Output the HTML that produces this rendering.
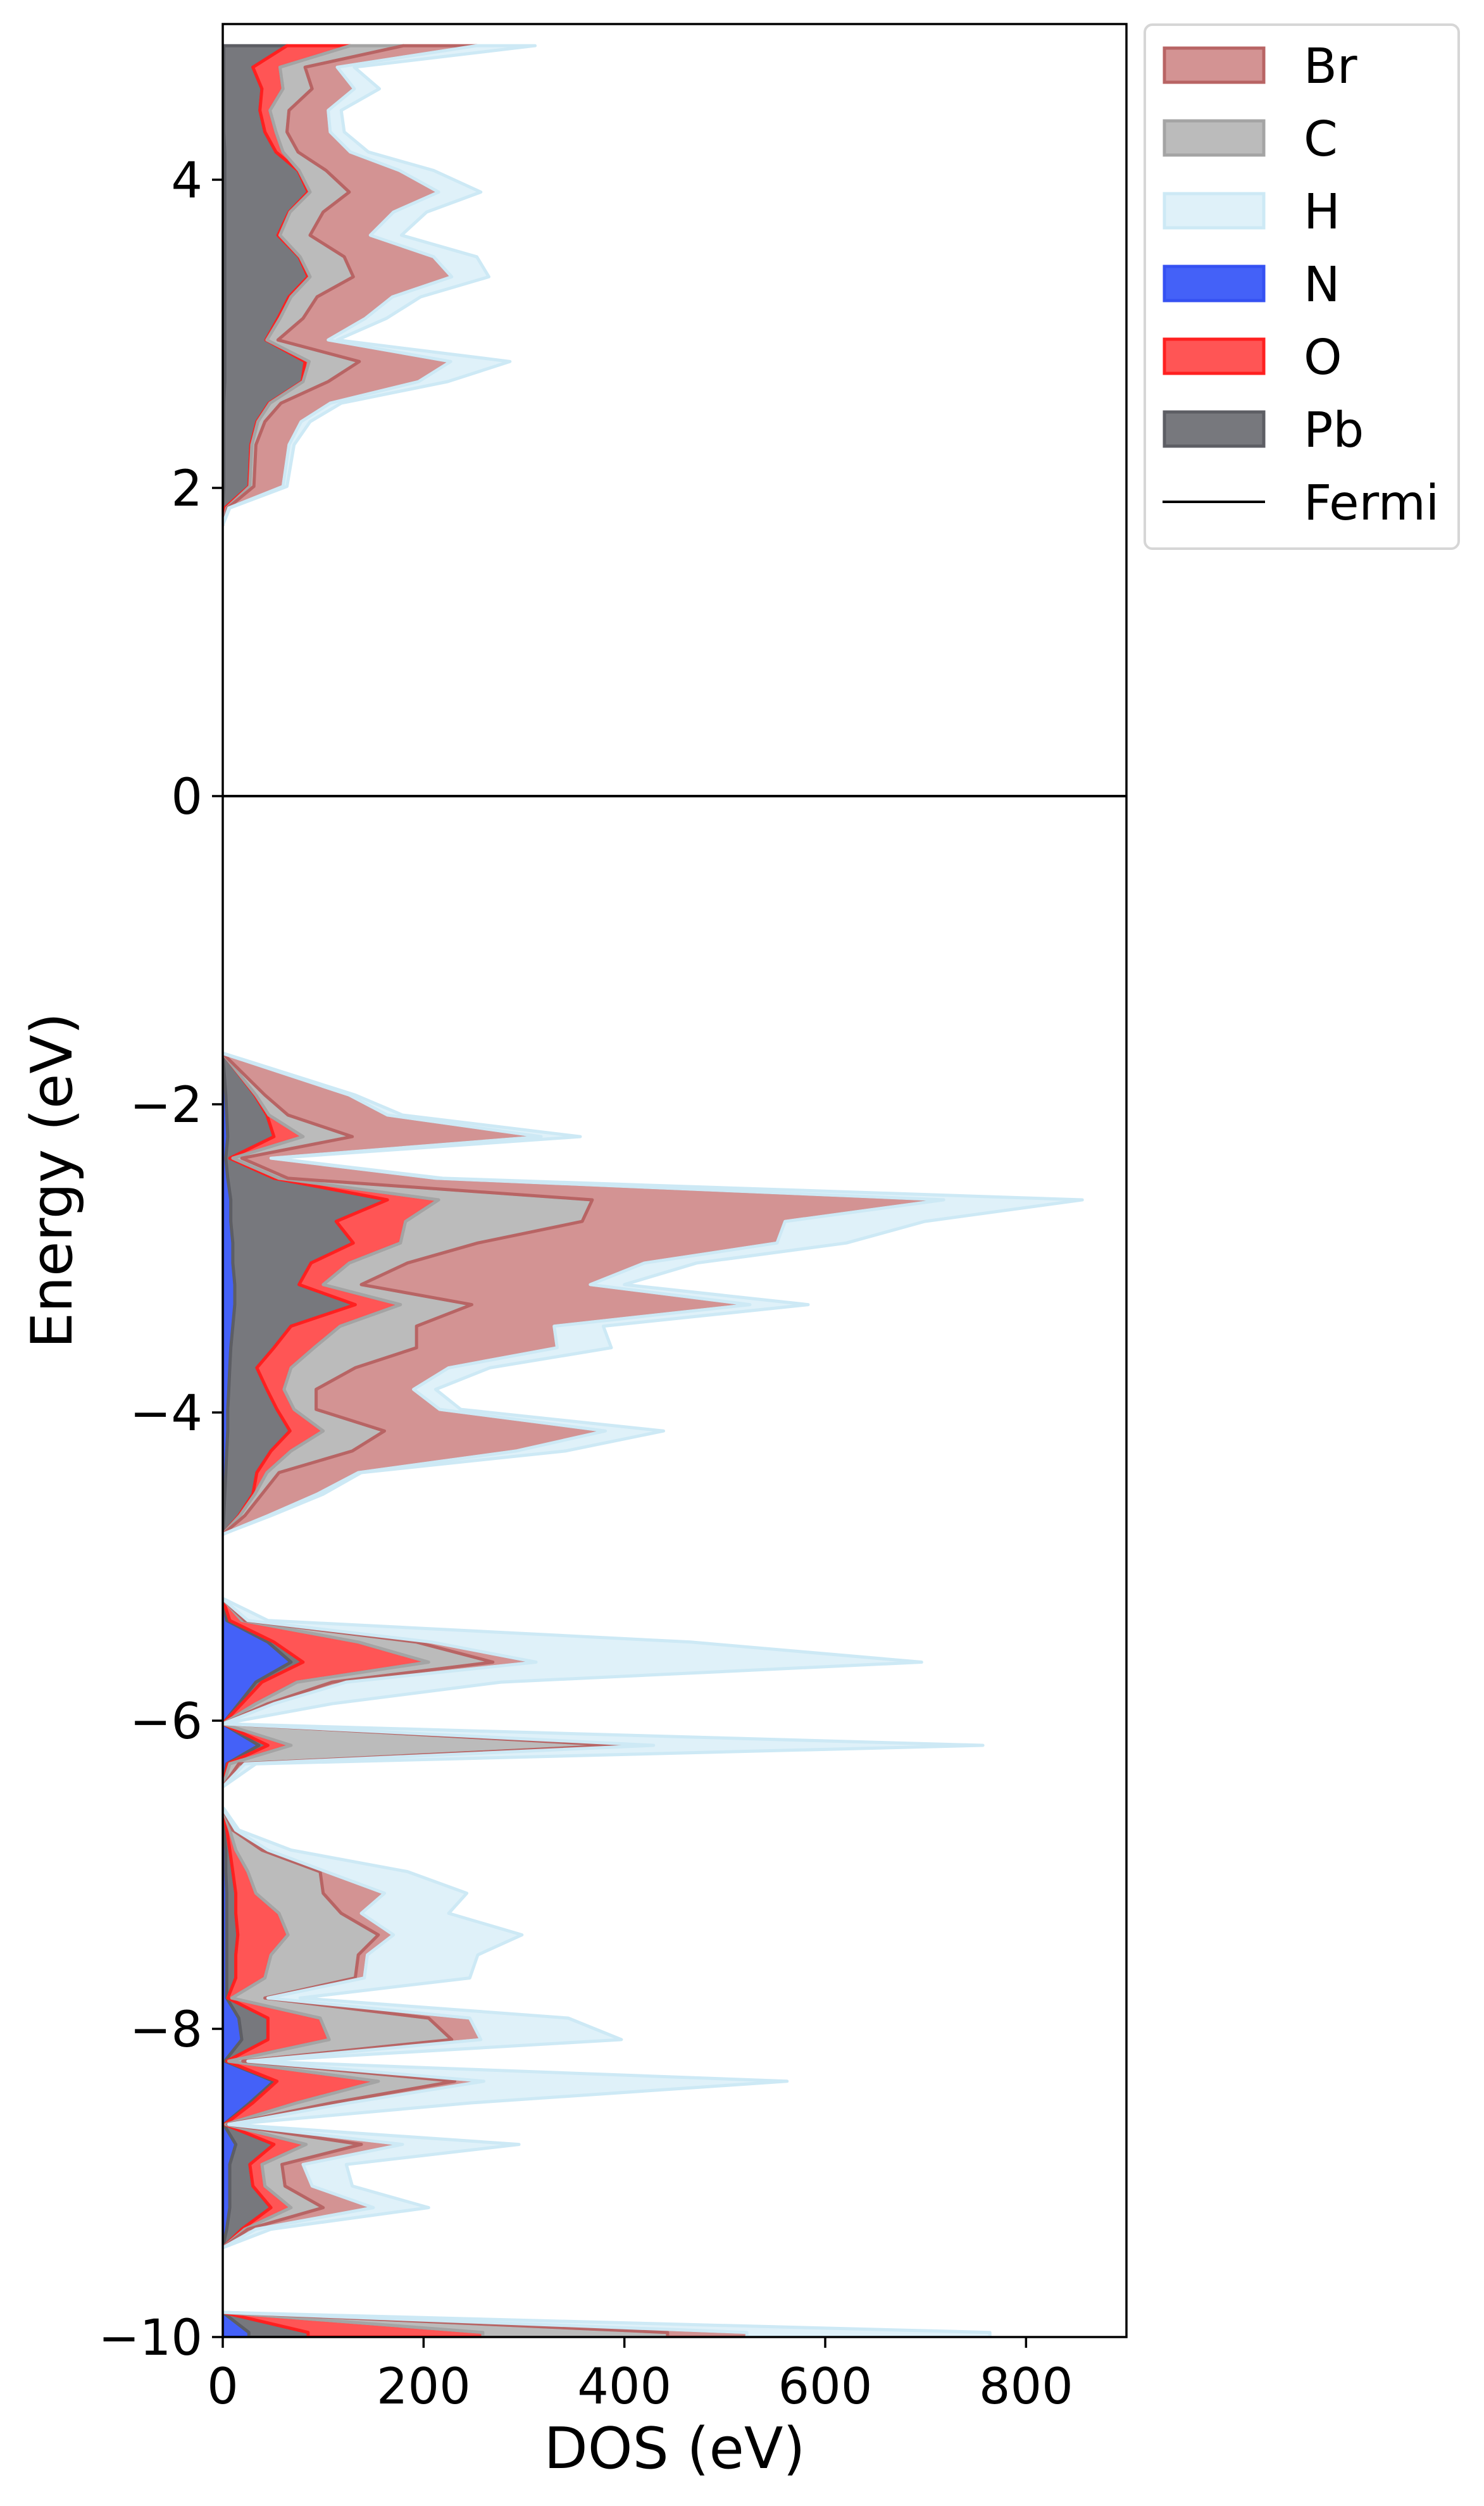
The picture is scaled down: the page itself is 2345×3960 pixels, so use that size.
<!DOCTYPE html>
<html><head><meta charset="utf-8"><style>
html,body{margin:0;padding:0;background:#fff;}
svg{display:block;}
text{font-family:"DejaVu Sans","Liberation Sans",sans-serif;fill:#000;}
</style></head><body>
<svg id="chart" width="2345" height="3960" viewBox="0 0 2345 3960" xmlns="http://www.w3.org/2000/svg">
<defs><clipPath id="plotclip"><rect x="352" y="38" width="1428" height="3655"/></clipPath></defs>
<rect x="0" y="0" width="2345" height="3960" fill="#fff"/>
<g id="layers" clip-path="url(#plotclip)"></g>
<g id="axes"></g>
<g id="legend"></g>
</svg>
<script>
// Conduction band
const cbE  = [4.87,4.73,4.59,4.45,4.31,4.18,4.06,3.92,3.79,3.64,3.50,3.37,3.24,3.10,2.96,2.82,2.69,2.55,2.43,2.28,2.01,1.87,1.76];
const cbN  = [1,1,1,1,1,2,2,2,2,2,2,2,2,2,2,2,2,1,1,1,1,0,0];
const cbPb = [63,29,38,36,41,51,73,83,64,53,74,83,64,53,41,80,77,45,33,27,25,2,0];
const cbO  = [63,27,21,10,11,7,1,2,1,2,1,2,2,2,1,4,1,1,1,1,1,2,0];
const cbC  = [53,25,29,19,11,15,27,39,33,30,44,43,26,23,11,50,25,11,7,4,4,1,0];
const cbBr = [73,32,42,39,43,52,73,89,70,60,89,98,75,62,50,91,90,49,36,33,29,1,0];
const cbH  = [58,17,25,13,14,18,34,42,33,31,43,37,28,21,9,59,29,11,9,5,4,1,0];
// Valence band 1
const v1E  = [-1.67,-1.94,-2.07,-2.21,-2.35,-2.48,-2.62,-2.76,-2.90,-3.03,-3.17,-3.30,-3.44,-3.58,-3.71,-3.85,-3.98,-4.12,-4.25,-4.39,-4.53,-4.67,-4.79];
const v1N  = [0,3,4,5,3,5,8,8,10,10,12,12,10,8,7,6,5,5,4,3,2,1,0];
const v1Pb = [0,29,40,46,4,46,156,105,120,78,64,120,58,43,27,38,49,62,44,31,28,15,0];
const v1O  = [0,1,2,29,3,5,51,69,47,38,24,45,49,40,34,17,17,33,20,10,2,1,0];
const v1C  = [0,9,19,49,9,9,153,176,77,58,38,71,76,102,64,32,22,61,61,12,7,5,0];
const v1Br = [0,84,99,188,29,147,350,202,298,236,228,277,137,140,93,97,123,220,163,79,55,23,0];
const v1H  = [1,6,15,39,3,7,138,139,69,52,34,58,49,54,41,22,21,58,49,3,6,3,0];
// Valence band 2
const v2E  = [-5.21,-5.35,-5.49,-5.62,-5.75,-5.89,-6.02,-6.16,-6.28,-6.43];
const v2N  = [0,4,45,68,33,16,0,36,4,0];
const v2Pb = [0,3,6,12,6,3,0,9,1,0];
const v2O  = [0,12,84,125,35,14,0,23,2,0];
const v2C  = [0,3,58,64,35,12,0,326,9,0];
const v2Br = [0,3,15,43,14,6,0,35,6,0];
const v2H  = [1,20,258,384,154,58,0,328,11,0];
// Valence band 3
const v3E  = [-6.57,-6.71,-6.84,-6.98,-7.12,-7.25,-7.39,-7.52,-7.67,-7.80,-7.93,-8.07,-8.21,-8.34,-8.48,-8.62,-8.75,-8.88,-9.02,-9.16,-9.30,-9.42];
const v3N  = [0,1,3,3,4,4,4,4,4,4,16,19,2,51,27,1,13,7,7,7,4,0];
const v3Pb = [0,3,4,7,9,9,11,9,9,1,29,26,2,3,3,1,38,20,23,41,15,0];
const v3O  = [0,3,6,15,20,43,50,35,29,4,52,61,2,101,44,1,32,12,12,20,3,0];
const v3C  = [0,3,26,72,67,62,90,87,90,33,108,122,14,76,35,2,55,20,20,32,3,0];
const v3Br = [0,3,6,6,61,20,15,9,9,3,41,29,5,29,17,1,41,21,27,50,8,0];
const v3H  = [1,3,23,81,82,87,128,110,105,32,98,140,5,302,122,2,116,43,40,55,15,0];
// Valence band 4 (truncated at -10)
const v4E  = [-9.84,-9.97,-10.0];
const v4N  = [0,26,26];
const v4Pb = [0,59,59];
const v4O  = [0,174,174];
const v4C  = [0,184,184];
const v4Br = [0,79,79];
const v4H  = [0,242,242];

const xTicks = [0,200,400,600,800];
const yTicks = [-10,-8,-6,-4,-2,0,2,4];
const legendLabels = ["Br","C","H","N","O","Pb","Fermi"];

const NS = "http://www.w3.org/2000/svg";
const X0=352, X1=1780, Y0=38, Y1=3693;
const xS = v => X0 + v*(X1-X0)/900;
const yS = e => 1258 - e*243.5;

const styles = {
  N:{fill:"#4461f8",stroke:"#3551f2"},
  Pb:{fill:"#77787d",stroke:"#5d5e64"},
  O:{fill:"#ff5555",stroke:"#ff2020"},
  C:{fill:"#bbbbbb",stroke:"#a4a4a4"},
  Br:{fill:"#d39393",stroke:"#b86464"},
  H:{fill:"#dff1f9",stroke:"#cde9f5"}
};
const bands = [
  {name:"conduction", E:cbE, s:{N:cbN,Pb:cbPb,O:cbO,C:cbC,Br:cbBr,H:cbH}},
  {name:"valence-1", E:v1E, s:{N:v1N,Pb:v1Pb,O:v1O,C:v1C,Br:v1Br,H:v1H}},
  {name:"valence-2", E:v2E, s:{N:v2N,Pb:v2Pb,O:v2O,C:v2C,Br:v2Br,H:v2H}},
  {name:"valence-3", E:v3E, s:{N:v3N,Pb:v3Pb,O:v3O,C:v3C,Br:v3Br,H:v3H}},
  {name:"valence-4", E:v4E, s:{N:v4N,Pb:v4Pb,O:v4O,C:v4C,Br:v4Br,H:v4H}}
];
const order = ["N","Pb","O","C","Br","H"];
const layers = document.getElementById("layers");
bands.forEach(b=>{
  let lower = b.E.map(()=>0);
  order.forEach(sp=>{
    const vals = b.s[sp];
    const upper = lower.map((l,i)=>l+vals[i]);
    const pts = [];
    for(let i=0;i<b.E.length;i++) pts.push(xS(upper[i]).toFixed(1)+","+yS(b.E[i]).toFixed(1));
    for(let i=b.E.length-1;i>=0;i--) pts.push(xS(lower[i]).toFixed(1)+","+yS(b.E[i]).toFixed(1));
    const p = document.createElementNS(NS,"polygon");
    p.setAttribute("points",pts.join(" "));
    p.setAttribute("fill",styles[sp].fill);
    p.setAttribute("stroke",styles[sp].stroke);
    p.setAttribute("stroke-width","5");
    p.setAttribute("stroke-linejoin","round");
    
    
    layers.appendChild(p);
    lower = upper;
  });
});
// Fermi line
const fl = document.createElementNS(NS,"line");
fl.setAttribute("x1",X0);fl.setAttribute("x2",X1);
fl.setAttribute("y1",yS(0));fl.setAttribute("y2",yS(0));
fl.setAttribute("stroke","#000");fl.setAttribute("stroke-width","4");


layers.appendChild(fl);

const axes = document.getElementById("axes");
const frame = document.createElementNS(NS,"rect");
frame.setAttribute("x",X0);frame.setAttribute("y",Y0);
frame.setAttribute("width",X1-X0);frame.setAttribute("height",Y1-Y0);
frame.setAttribute("fill","none");frame.setAttribute("stroke","#000");frame.setAttribute("stroke-width","3.5");


axes.appendChild(frame);
xTicks.forEach(t=>{
  const x=xS(t);
  const l=document.createElementNS(NS,"line");
  l.setAttribute("x1",x);l.setAttribute("x2",x);l.setAttribute("y1",Y1);l.setAttribute("y2",Y1+17);
  l.setAttribute("stroke","#000");l.setAttribute("stroke-width","3.5");
  
  
  axes.appendChild(l);
  const tx=document.createElementNS(NS,"text");
  tx.setAttribute("x",x);tx.setAttribute("y",Y1+105);
  tx.setAttribute("text-anchor","middle");tx.setAttribute("font-size","78");
  tx.textContent=String(t);
  
  
  axes.appendChild(tx);
});
yTicks.forEach(t=>{
  const y=yS(t);
  const l=document.createElementNS(NS,"line");
  l.setAttribute("x1",X0-17);l.setAttribute("x2",X0);l.setAttribute("y1",y);l.setAttribute("y2",y);
  l.setAttribute("stroke","#000");l.setAttribute("stroke-width","3.5");
  
  
  axes.appendChild(l);
  const tx=document.createElementNS(NS,"text");
  tx.setAttribute("x",X0-32);tx.setAttribute("y",y+28);
  tx.setAttribute("text-anchor","end");tx.setAttribute("font-size","78");
  tx.textContent=(t<0?"\u2212"+Math.abs(t):String(t));
  
  
  axes.appendChild(tx);
});
const xl=document.createElementNS(NS,"text");
xl.setAttribute("x",(X0+X1)/2);xl.setAttribute("y",3900);
xl.setAttribute("text-anchor","middle");xl.setAttribute("font-size","90");
xl.textContent="DOS (eV)";


axes.appendChild(xl);
const yl=document.createElementNS(NS,"text");
yl.setAttribute("x",0);yl.setAttribute("y",0);
yl.setAttribute("text-anchor","middle");yl.setAttribute("font-size","90");
yl.setAttribute("transform","translate(113,"+((Y0+Y1)/2)+") rotate(-90)");
yl.textContent="Energy (eV)";


axes.appendChild(yl);

// Legend
const lg=document.getElementById("legend");
const box=document.createElementNS(NS,"rect");
box.setAttribute("x",1809);box.setAttribute("y",39);box.setAttribute("width",496);box.setAttribute("height",828);
box.setAttribute("rx",12);box.setAttribute("fill","#fff");box.setAttribute("stroke","#d6d6d6");box.setAttribute("stroke-width","4");


lg.appendChild(box);
const legKeys=["Br","C","H","N","O","Pb"];
legendLabels.forEach((lab,i)=>{
  const cy=103+i*115;
  if(i<6){
    const r=document.createElementNS(NS,"rect");
    r.setAttribute("x",1840);r.setAttribute("y",cy-27);r.setAttribute("width",157);r.setAttribute("height",54);
    r.setAttribute("fill",styles[legKeys[i]].fill);r.setAttribute("stroke",styles[legKeys[i]].stroke);r.setAttribute("stroke-width","5");
    
    
    lg.appendChild(r);
  } else {
    const l=document.createElementNS(NS,"line");
    l.setAttribute("x1",1837);l.setAttribute("x2",1999);l.setAttribute("y1",cy);l.setAttribute("y2",cy);
    l.setAttribute("stroke","#000");l.setAttribute("stroke-width","4");
    
    
    lg.appendChild(l);
  }
  const t=document.createElementNS(NS,"text");
  t.setAttribute("x",2060);t.setAttribute("y",cy+28);t.setAttribute("font-size","77");
  t.textContent=lab;
  
  
  lg.appendChild(t);
});
</script>
</body></html>
